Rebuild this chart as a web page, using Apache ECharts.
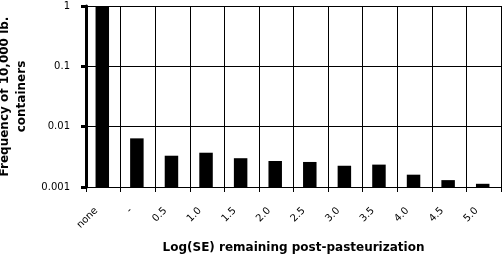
<!DOCTYPE html>
<html>
<head>
<meta charset="utf-8">
<script src="https://cdn.jsdelivr.net/npm/echarts@6/dist/echarts.min.js"></script>
<style>
html,body{margin:0;padding:0;background:#fff;}
#c{width:502px;height:255px;}
</style>
</head>
<body>
<div id="c"></div>
<script>
const categories = ["none", "-", "0.5", "1.0", "1.5", "2.0", "2.5", "3.0", "3.5", "4.0", "4.5", "5.0"];
const frequency = [1, 0.0064, 0.0033, 0.0037, 0.0030, 0.0027, 0.0026, 0.00225, 0.00235, 0.0016, 0.0013, 0.00113];
const yTickLabels = {"0.001": "0.001", "0.01": "0.01", "0.1": "0.1", "1": "1"};
const yMin = 0.001;
const yMax = 1;
const xTitle = "Log(SE) remaining post-pasteurization";
const yTitle = "Frequency of 10,000 lb.\ncontainers";

const chart = echarts.init(document.getElementById('c'), null, {renderer: 'canvas'});
const font = '"DejaVu Sans", sans-serif';
const data = frequency.map(function (v, i) { return [i, v]; });
chart.setOption({
  animation: false,
  backgroundColor: '#fff',
  grid: {left: 86, right: 1, top: 6, bottom: 68, show: false, outerBoundsMode: 'none', containLabel: false},
  xAxis: {
    type: 'category',
    data: categories,
    boundaryGap: true,
    axisLine: {show: true, lineStyle: {color: '#000', width: 1}},
    axisTick: {show: true, length: 5, lineStyle: {color: '#000', width: 1}},
    splitLine: {show: true, lineStyle: {color: '#000', width: 1}},
    axisLabel: {rotate: 45, margin: 15, padding: [0, 10, 0, 0], color: '#000', fontFamily: font, fontSize: 10},
    name: xTitle,
    nameLocation: 'middle',
    nameGap: 55,
    nameTextStyle: {color: '#000', fontFamily: font, fontSize: 12, fontWeight: 'bold'}
  },
  yAxis: {
    type: 'log',
    logBase: 10,
    min: yMin,
    max: yMax,
    axisLine: {show: true, lineStyle: {color: '#000', width: 3}},
    axisTick: {show: true, length: 5, lineStyle: {color: '#000', width: 3}},
    splitLine: {show: true, lineStyle: {color: '#000', width: 1}},
    axisLabel: {
      color: '#000', fontFamily: font, fontSize: 10, margin: 16,
      formatter: function (v) {
        const k = String(+v.toPrecision(3));
        return yTickLabels[k] !== undefined ? yTickLabels[k] : k;
      }
    },
    name: yTitle,
    nameLocation: 'middle',
    nameRotate: 90,
    nameGap: 52,
    nameTextStyle: {color: '#000', fontFamily: font, fontSize: 12, fontWeight: 'bold', lineHeight: 17, align: 'center'}
  },
  series: [{
    type: 'custom',
    data: data,
    renderItem: function (params, api) {
      const top = api.coord([api.value(0), api.value(1)]);
      const base = api.coord([api.value(0), yMin]);
      const w = api.size([1, 0])[0] * 0.39;
      return {
        type: 'rect',
        shape: {x: top[0] - w / 2 - 1, y: top[1], width: w, height: base[1] - top[1]},
        style: {fill: '#000'}
      };
    }
  }]
});
</script>
</body>
</html>
